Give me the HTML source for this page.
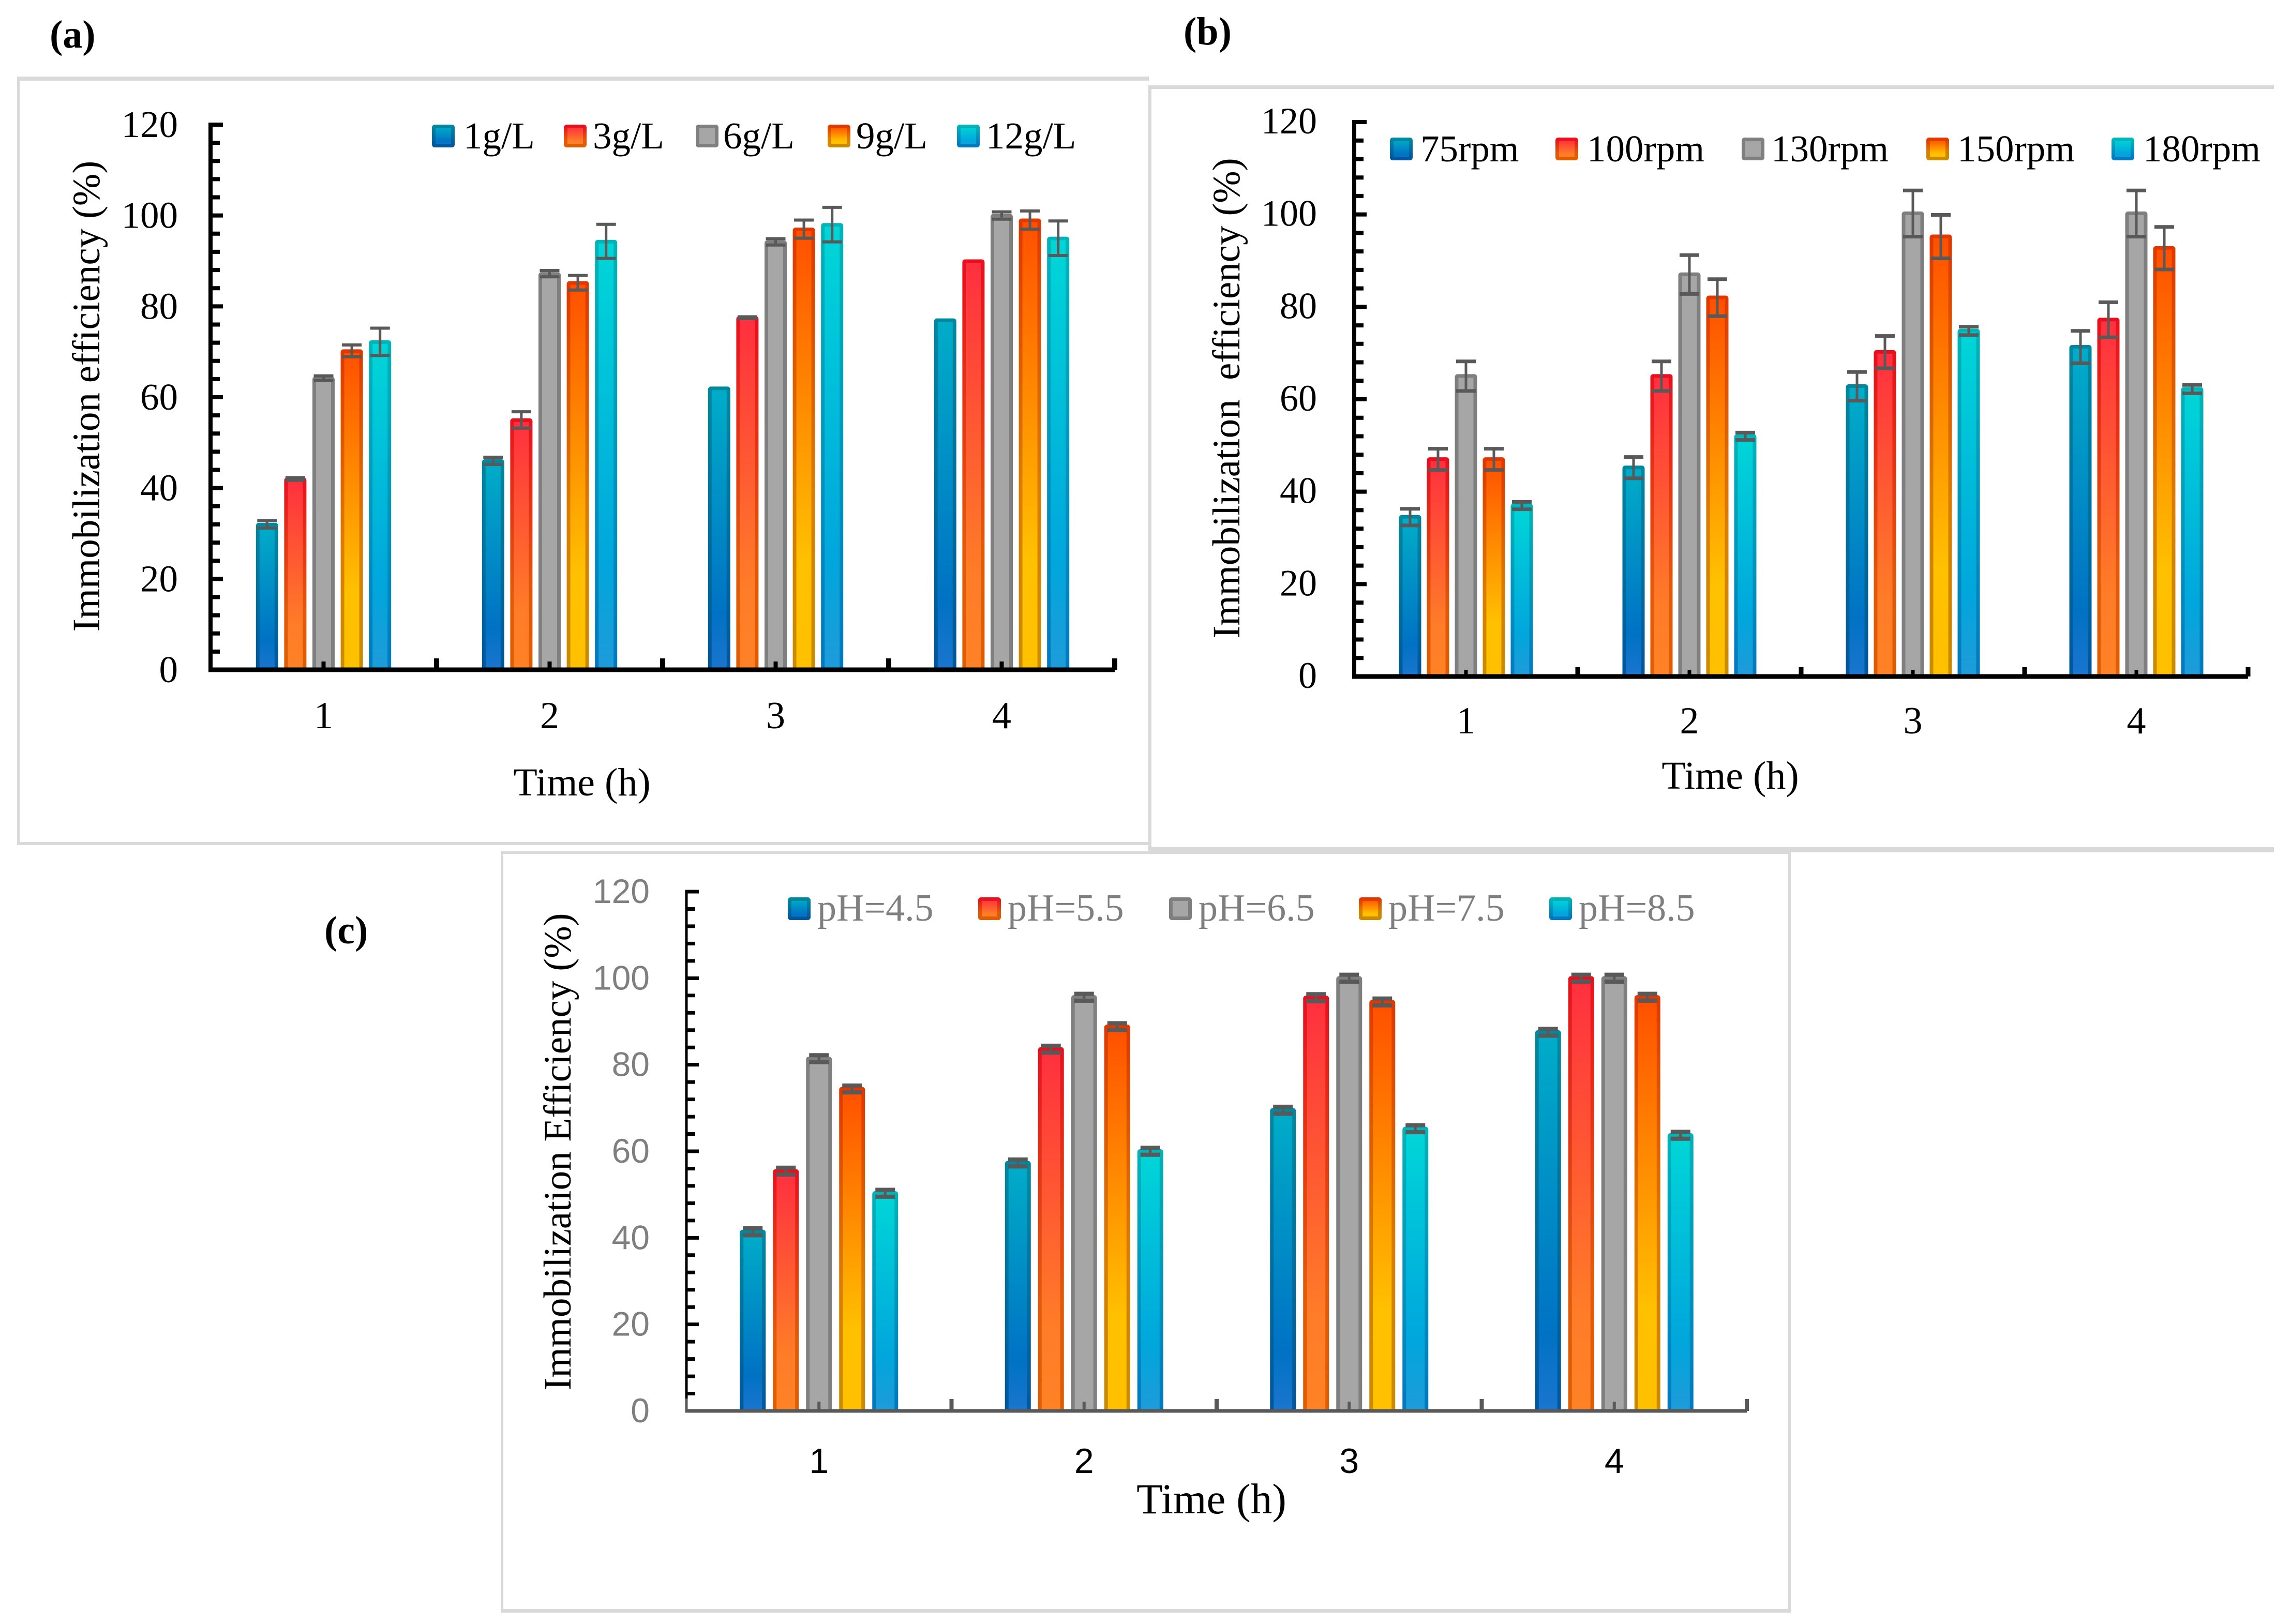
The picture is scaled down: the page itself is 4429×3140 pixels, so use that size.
<!DOCTYPE html>
<html lang="en">
<head>
<meta charset="utf-8">
<title>Immobilization efficiency bar charts</title>
<style>
html,body{margin:0;padding:0;background:#fff;}
svg{display:block;}
text{font-family:"Liberation Serif",serif;}
</style>
</head>
<body>
<svg id="fig" xmlns="http://www.w3.org/2000/svg" width="4429" height="3140" viewBox="0 0 4429 3140">
<defs>
<linearGradient id="f0" x1="0" y1="0" x2="0" y2="1"><stop offset="0" stop-color="#00ADC8"/><stop offset=".8" stop-color="#0072C4"/><stop offset="1" stop-color="#1B75CF"/></linearGradient>
<linearGradient id="b0" x1="0" y1="0" x2="0" y2="1"><stop offset="0" stop-color="#00889F"/><stop offset="1" stop-color="#00569C"/></linearGradient>
<linearGradient id="f1" x1="0" y1="0" x2="0" y2="1"><stop offset="0" stop-color="#FF2F3F"/><stop offset=".75" stop-color="#FF7B28"/><stop offset="1" stop-color="#FF8226"/></linearGradient>
<linearGradient id="b1" x1="0" y1="0" x2="0" y2="1"><stop offset="0" stop-color="#E8101E"/><stop offset=".7" stop-color="#E25A08"/><stop offset="1" stop-color="#E05C00"/></linearGradient>
<linearGradient id="f2" x1="0" y1="0" x2="0" y2="1"><stop offset="0" stop-color="#A6A6A6"/><stop offset="1" stop-color="#A6A6A6"/></linearGradient>
<linearGradient id="b2" x1="0" y1="0" x2="0" y2="1"><stop offset="0" stop-color="#7F7F7F"/><stop offset="1" stop-color="#7F7F7F"/></linearGradient>
<linearGradient id="f3" x1="0" y1="0" x2="0" y2="1"><stop offset="0" stop-color="#FF4F00"/><stop offset=".75" stop-color="#FFC000"/><stop offset="1" stop-color="#FFC000"/></linearGradient>
<linearGradient id="b3" x1="0" y1="0" x2="0" y2="1"><stop offset="0" stop-color="#E03800"/><stop offset=".6" stop-color="#DB7C00"/><stop offset="1" stop-color="#C98C00"/></linearGradient>
<linearGradient id="f4" x1="0" y1="0" x2="0" y2="1"><stop offset="0" stop-color="#00D6D8"/><stop offset=".75" stop-color="#00A6DC"/><stop offset="1" stop-color="#1F9BD9"/></linearGradient>
<linearGradient id="b4" x1="0" y1="0" x2="0" y2="1"><stop offset="0" stop-color="#00B4B8"/><stop offset="1" stop-color="#0078C0"/></linearGradient>
</defs>

<rect x="0" y="0" width="4429" height="3140" fill="#fff"/>

<g fill="#D9D9D9">
  <rect x="33" y="148" width="2188" height="8"/>
  <rect x="33" y="148" width="5" height="1486"/>
  <rect x="33" y="1628" width="2188" height="6"/>
</g>
<g fill="#D9D9D9">
  <rect x="2220" y="165" width="2176" height="7"/>
  <rect x="2220" y="165" width="6" height="1483"/>
  <rect x="2220" y="1638" width="2176" height="10"/>
</g>
<g fill="#D9D9D9">
  <rect x="968" y="1646" width="2494" height="5"/>
  <rect x="968" y="1646" width="5" height="1472"/>
  <rect x="3456" y="1646" width="6" height="1472"/>
  <rect x="968" y="3111" width="2494" height="7"/>
</g>

<text x="96" y="92" font-size="76" font-weight="700" fill="#000">(a)</text>
<text x="2288" y="86" font-size="76" font-weight="700" fill="#000">(b)</text>
<text x="627" y="1824" font-size="76" font-weight="700" fill="#000">(c)</text>

<g id="chart-a"></g>
<g id="chart-b"></g>
<g id="chart-c"></g>
</svg>

<script>
// ---- shared categories and ticks ----
const timeCategories = ['1', '2', '3', '4'];
const yTickValues = [0, 20, 40, 60, 80, 100, 120];

// ---- panel (a): enzyme concentration ----
const aSeriesNames = ['1g/L', '3g/L', '6g/L', '9g/L', '12g/L'];
const a1g = [32, 46, 62, 77];
const a3g = [42, 55, 77.5, 90];
const a6g = [64.2, 87.2, 94.2, 100];
const a9g = [70.2, 85.2, 97, 99];
const a12g = [72.2, 94.3, 98, 95];
const a1gErr = [0.8, 0.8, 0, 0];
const a3gErr = [0.3, 1.8, 0.2, 0];
const a6gErr = [0.5, 0.7, 0.7, 0.8];
const a9gErr = [1.3, 1.6, 2, 2];
const a12gErr = [3, 3.75, 3.8, 3.8];

// ---- panel (b): agitation speed ----
const bSeriesNames = ['75rpm', '100rpm', '130rpm', '150rpm', '180rpm'];
const b75 = [34.5, 45.2, 62.8, 71.3];
const b100 = [47, 65, 70.2, 77.2];
const b130 = [65, 87, 100.2, 100.2];
const b150 = [47, 82, 95.2, 92.7];
const b180 = [37, 52, 74.8, 62.2];
const b75Err = [1.8, 2.3, 3.1, 3.5];
const b100Err = [2.3, 3.2, 3.5, 3.8];
const b130Err = [3.2, 4.2, 5, 5];
const b150Err = [2.3, 4, 4.7, 4.6];
const b180Err = [0.8, 0.8, 0.9, 0.9];

// ---- panel (c): pH ----
const cSeriesNames = ['pH=4.5', 'pH=5.5', 'pH=6.5', 'pH=7.5', 'pH=8.5'];
const c45 = [41.4, 57.3, 69.5, 87.5];
const c55 = [55.4, 83.6, 95.5, 100];
const c65 = [81.4, 95.6, 100, 100];
const c75 = [74.4, 88.8, 94.5, 95.6];
const c85 = [50.3, 60, 65.2, 63.7];
const c45Err = [0.8, 0.8, 0.8, 0.8];
const c55Err = [0.8, 0.8, 0.8, 0.8];
const c65Err = [0.8, 0.8, 0.8, 0.8];
const c75Err = [0.8, 0.8, 0.8, 0.8];
const c85Err = [0.8, 0.8, 0.8, 0.8];

const SVGNS = 'http://www.w3.org/2000/svg';
function mk(parent, tag, attrs, txt) {
  const n = document.createElementNS(SVGNS, tag);
  for (const k in attrs) n.setAttribute(k, attrs[k]);
  if (txt !== undefined) n.textContent = txt;
  parent.appendChild(n);
  return n;
}

function drawPanel(cfg) {
  const root = document.getElementById(cfg.id);
  const yScale = v => cfg.y0 + (cfg.y120 - cfg.y0) * v / 120;
  const catW = cfg.catW;
  const xCat = i => cfg.xAxis + catW * (i + 0.5);
  let el;

  // bars + error bars
  cfg.series.forEach((vals, s) => {
    const g = mk(root, 'g', {});
    
    
    vals.forEach((v, c) => {
      const cx = xCat(c) + (s - 2) * cfg.pitch;
      const top = yScale(v) - cfg.barLift;
      const h = cfg.y0 - top;
      el = mk(g, 'rect', {
        x: cx - cfg.barW / 2 + cfg.bw / 2, y: top + cfg.bw / 2,
        width: cfg.barW - cfg.bw, height: Math.max(h - cfg.bw / 2, 1),
        rx: 2, fill: 'url(#f' + s + ')', stroke: 'url(#b' + s + ')', 'stroke-width': cfg.bw
      });
      
      
    });
    vals.forEach((v, c) => {
      const err = cfg.errs[s][c];
      if (!err) return;
      const cx = xCat(c) + (s - 2) * cfg.pitch;
      const hi = yScale(v + err), lo = yScale(v - err);
      const eg = mk(g, 'g', { stroke: '#595959', fill: 'none' });
      
      
      mk(eg, 'line', { x1: cx, x2: cx, y1: hi, y2: lo, 'stroke-width': 5 });
      mk(eg, 'line', { x1: cx - cfg.capW / 2, x2: cx + cfg.capW / 2, y1: hi, y2: hi, 'stroke-width': cfg.capT });
      mk(eg, 'line', { x1: cx - cfg.capW / 2, x2: cx + cfg.capW / 2, y1: lo, y2: lo, 'stroke-width': cfg.capT });
    });
  });

  // y axis
  const yAx = mk(root, 'g', { stroke: '#000' });
  
  
  const yLineEnd = cfg.greyBase ? cfg.y0 - 24 : cfg.y0;
  mk(yAx, 'line', { x1: cfg.xAxis, x2: cfg.xAxis, y1: cfg.y120 - cfg.yTickT / 2, y2: yLineEnd, 'stroke-width': cfg.yAxisT });
  if (cfg.greyBase) {
    mk(yAx, 'line', { x1: cfg.xAxis, x2: cfg.xAxis, y1: yLineEnd, y2: cfg.y0, 'stroke-width': cfg.yAxisT, stroke: cfg.xColor });
  }
  for (let v = 0; v <= 120; v += 4) {
    if (v === 0) continue;
    const major = v % 20 === 0;
    mk(yAx, 'line', {
      x1: cfg.xAxis, x2: cfg.xAxis + (major ? cfg.yMajor : cfg.yMinor),
      y1: yScale(v), y2: yScale(v), 'stroke-width': cfg.yTickT
    });
  }

  // y tick labels
  yTickValues.forEach(v => {
    el = mk(root, 'text', {
      x: cfg.yLabelRight, y: yScale(v) + cfg.yLabelDy, 'text-anchor': 'end',
      'font-size': cfg.tickSize, fill: cfg.tickColor, style: 'font-family:' + cfg.tickFont
    }, String(v));
    
    
  });

  // x axis
  const xAx = mk(root, 'g', { stroke: cfg.xColor });
  
  
  const xEnd = cfg.xAxis + catW * timeCategories.length;
  mk(xAx, 'line', { x1: cfg.xAxis - cfg.yAxisT / 2, x2: xEnd, y1: cfg.y0, y2: cfg.y0, 'stroke-width': cfg.xAxisT });
  for (let i = 1; i <= timeCategories.length; i++) {
    const x = cfg.xAxis + catW * i;
    mk(xAx, 'line', { x1: x, x2: x, y1: cfg.y0, y2: cfg.y0 - cfg.xMajor, 'stroke-width': cfg.xTickT });
  }
  timeCategories.forEach((t, i) => {
    mk(xAx, 'line', { x1: xCat(i), x2: xCat(i), y1: cfg.y0, y2: cfg.y0 - cfg.xMinor, 'stroke-width': cfg.xTickT - 2 });
    el = mk(root, 'text', {
      x: xCat(i), y: cfg.xLabelY, 'text-anchor': 'middle',
      'font-size': cfg.xTickSize, fill: '#000', style: 'font-family:' + cfg.xTickFont
    }, t);
    
    
  });

  // axis titles
  el = mk(root, 'text', {
    x: cfg.xTitleX, y: cfg.xTitleY, 'text-anchor': 'middle', 'font-size': cfg.xTitleSize, fill: '#000'
  }, 'Time (h)');
  
  

  el = mk(root, 'text', {
    transform: 'translate(' + cfg.yTitleX + ',' + cfg.yTitleY + ') rotate(-90)',
    'text-anchor': 'middle', 'font-size': cfg.yTitleSize, fill: '#000', 'xml:space': 'preserve',
    style: 'white-space:pre'
  }, cfg.yTitle);
  
  

  // legend
  const lg = mk(root, 'g', {});
  
  
  cfg.names.forEach((name, s) => {
    const entry = mk(lg, 'g', {});
    
    
    const sx = cfg.legendX[s];
    mk(entry, 'rect', {
      x: sx + 3.5, y: cfg.legendY + 3.5, width: 37, height: 37, rx: 2,
      fill: 'url(#f' + s + ')', stroke: 'url(#b' + s + ')', 'stroke-width': 7
    });
    mk(entry, 'text', {
      x: cfg.legendTextX[s], y: cfg.legendBase, 'font-size': cfg.legendSize, fill: cfg.legendColor
    }, name);
  });
}

drawPanel({
  id: 'chart-a', prefix: 'a', names: aSeriesNames,
  series: [a1g, a3g, a6g, a9g, a12g],
  errs: [a1gErr, a3gErr, a6gErr, a9gErr, a12gErr],
  xAxis: 407, y0: 1295, y120: 241, catW: 437, pitch: 54.6, barW: 43, bw: 7, capW: 38, capT: 6, barLift: 3,
  yAxisT: 8, xAxisT: 9, yTickT: 8, yMajor: 24, yMinor: 18, xMajor: 22, xMinor: 16, xTickT: 10,
  xColor: '#000', tickColor: '#000', tickSize: 73, tickFont: '"Liberation Serif",serif',
  yLabelRight: 344, yLabelDy: 24, xLabelY: 1408, xTickSize: 74, xTickFont: '"Liberation Serif",serif',
  xTitleX: 1125, xTitleY: 1538, xTitleSize: 76, yTitleX: 192, yTitleY: 766, yTitleSize: 75,
  yTitle: 'Immobilization efficiency (%)',
  legendX: [835, 1090, 1345, 1600, 1850], legendTextX: [896, 1146, 1398, 1655, 1906],
  legendY: 241, legendBase: 287, legendSize: 73, legendColor: '#000'
});

drawPanel({
  id: 'chart-b', prefix: 'b', names: bSeriesNames,
  series: [b75, b100, b130, b150, b180],
  errs: [b75Err, b100Err, b130Err, b150Err, b180Err],
  xAxis: 2618, y0: 1308, y120: 236, catW: 432, pitch: 54, barW: 43, bw: 7, capW: 38, capT: 7, barLift: 4,
  yAxisT: 8, xAxisT: 9, yTickT: 8, yMajor: 24, yMinor: 18, xMajor: 18, xMinor: 13, xTickT: 9,
  xColor: '#000', tickColor: '#000', tickSize: 72, tickFont: '"Liberation Serif",serif',
  yLabelRight: 2546, yLabelDy: 22, xLabelY: 1418, xTickSize: 74, xTickFont: '"Liberation Serif",serif',
  xTitleX: 3345, xTitleY: 1525, xTitleSize: 76, yTitleX: 2396, yTitleY: 770, yTitleSize: 75,
  yTitle: 'Immobilization  efficiency (%)',
  legendX: [2687, 3007, 3367, 3724, 4082], legendTextX: [2746, 3068, 3424, 3784, 4143],
  legendY: 266, legendBase: 312, legendSize: 73, legendColor: '#000'
});

drawPanel({
  id: 'chart-c', prefix: 'c', names: cSeriesNames,
  series: [c45, c55, c65, c75, c85],
  errs: [c45Err, c55Err, c65Err, c75Err, c85Err],
  xAxis: 1327, y0: 2728, y120: 1724, catW: 512.5, pitch: 64, barW: 50, bw: 7, capW: 38, capT: 8, barLift: 4,
  yAxisT: 5, xAxisT: 7, yTickT: 7, yMajor: 24, yMinor: 17, xMajor: 23, xMinor: 18, xTickT: 8,
  xColor: '#595959', greyBase: true, tickColor: '#7F7F7F', tickSize: 66, tickFont: '"Liberation Sans",sans-serif',
  yLabelRight: 1256, yLabelDy: 22, xLabelY: 2848, xTickSize: 68, xTickFont: '"Liberation Sans",sans-serif',
  xTitleX: 2342, xTitleY: 2926, xTitleSize: 83, yTitleX: 1103, yTitleY: 2227, yTitleSize: 75,
  yTitle: 'Immobilization Efficiency (%)',
  legendX: [1523, 1891, 2260, 2627, 2995], legendTextX: [1580, 1948, 2317, 2684, 3052],
  legendY: 1735, legendBase: 1780, legendSize: 74, legendColor: '#7F7F7F'
});
</script>
</body>
</html>
